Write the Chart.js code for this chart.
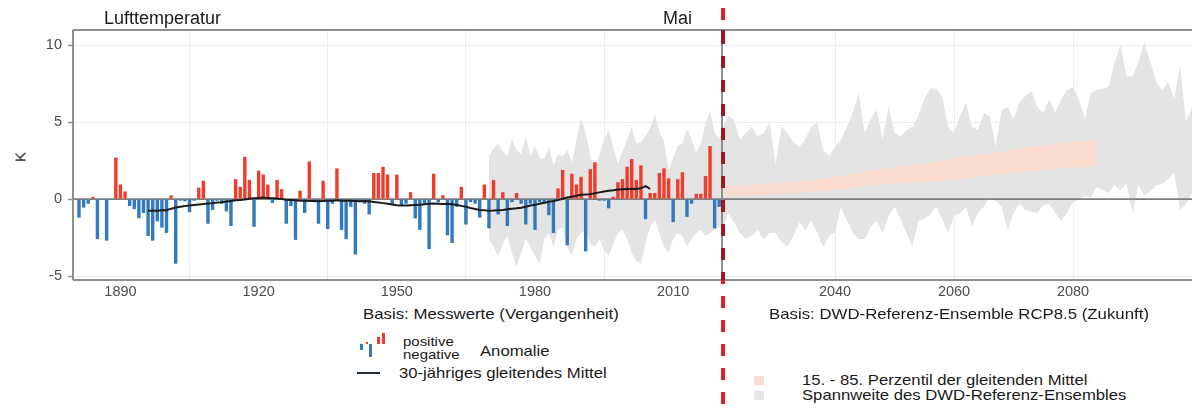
<!DOCTYPE html>
<html lang="de">
<head>
<meta charset="utf-8">
<title>Lufttemperatur – Mai</title>
<script src="https://cdn.jsdelivr.net/npm/chart.js@4.4.1/dist/chart.umd.min.js"></script>
<style>
  html, body { margin: 0; padding: 0; background: #fff; }
  #wrap { position: relative; width: 1192px; height: 408px; overflow: hidden;
          font-family: "Liberation Sans", Arial, Helvetica, sans-serif; color: #1a1a1a; }
  canvas { position: absolute; top: 0; }
  #past { left: 0; }
  #future { left: 700px; }
  .t { position: absolute; white-space: nowrap; line-height: 1; transform-origin: 0 50%; }
  .note { font-size: 15px; transform: translateY(-50%) scaleX(1.12); }
  .leg { font-size: 14.5px; transform: translateY(-50%) scaleX(1.15); }
  .small { font-size: 13px; transform: translateY(-50%) scaleX(1.15); }
  .sw { position: absolute; }
  #cut { position: absolute; left: 721px; top: -16px; width: 4px; height: 440px;
         background: repeating-linear-gradient(to bottom, #e11d2e 0 12px, transparent 12px 24px); }
  #cutIn { position: absolute; left: 721px; top: 30px; width: 4px; height: 250px;
           background: repeating-linear-gradient(to bottom, #9e1523 0 12px, transparent 12px 24px);
           background-position: 0 2px; }
</style>
</head>
<body>
<div id="wrap">
  <canvas id="past" width="740" height="300"></canvas>
  <canvas id="future" width="492" height="300"></canvas>

  <div class="t" style="left:104px; top:18px; font-size:18px; transform:translateY(-50%);">Lufttemperatur</div>
  <div class="t" style="left:663px; top:18px; font-size:18px; transform:translateY(-50%);">Mai</div>
  <div class="t" style="left:15px; top:157px; font-size:15px; transform-origin:50% 50%; transform:translateY(-50%) rotate(-90deg);">K</div>

  <div class="t note" style="left:363px; top:313px;">Basis: Messwerte (Vergangenheit)</div>
  <div class="t note" style="left:769px; top:313px;">Basis: DWD-Referenz-Ensemble RCP8.5 (Zukunft)</div>

  <!-- anomaly legend glyph -->
  <div class="sw" style="left:360px; top:344px; width:3px; height:6px; background:#3478be;"></div>
  <div class="sw" style="left:366px; top:342px; width:2px; height:2px; background:#f03c2d;"></div>
  <div class="sw" style="left:369px; top:344px; width:3px; height:13px; background:#3478be;"></div>
  <div class="sw" style="left:377px; top:337px; width:3px; height:7px; background:#f03c2d;"></div>
  <div class="sw" style="left:382px; top:333px; width:3px; height:11px; background:#f03c2d;"></div>
  <div class="t small" style="left:403px; top:341px;">positive</div>
  <div class="t small" style="left:403px; top:354px;">negative</div>
  <div class="t leg" style="left:480px; top:351px;">Anomalie</div>
  <div class="sw" style="left:357px; top:372px; width:23px; height:2px; background:#1f2b38;"></div>
  <div class="t leg" style="left:399px; top:373px;">30-jähriges gleitendes Mittel</div>

  <!-- ensemble legend -->
  <div class="sw" style="left:754px; top:376px; width:10px; height:9px; background:#fadbd0;"></div>
  <div class="t leg" style="left:802px; top:380px;">15. - 85. Perzentil der gleitenden Mittel</div>
  <div class="sw" style="left:754px; top:391px; width:10px; height:9px; background:#e5e5e5;"></div>
  <div class="t leg" style="left:802px; top:395px;">Spannweite des DWD-Referenz-Ensembles</div>

  <div id="cut"></div>
  <div id="cutIn"></div>
</div>

<script>
// May air temperature anomalies (K), one value per year from 1881
const firstYear = 1881;
const anomalies = [
  -1.2, -0.55, -0.3, 0.15, -2.6, -0.05, -2.7, -0.05, 2.7, 0.95,
  0.5, -0.45, -0.65, -1.25, -0.9, -2.4, -2.7, -1.45, -1.85, -2.2,
  0.25, -4.2, -0.1, -0.15, -0.85, -0.1, 0.75, 1.2, -1.6, -0.7,
  -0.1, -0.3, -0.8, -1.75, 1.3, 0.8, 2.75, 1.25, -1.8, 1.85,
  1.6, 0.95, -0.25, 1.25, 0.65, -1.6, -0.45, -2.65, 0.55, -0.9,
  2.45, -0.2, -1.6, 1.2, -1.95, -0.3, 2.0, -2.0, -2.6, -0.5,
  -3.6, -0.2, -0.3, -1.0, 1.7, 1.7, 2.1, 1.6, -0.35, 1.6,
  -0.45, -0.3, 0.45, -1.25, -2.0, -0.3, -3.25, 1.65, -0.2, 0.25,
  -2.35, -2.85, -0.5, 0.8, -1.65, -0.2, -0.3, -1.2, 0.95, -1.9,
  1.25, -1.0, 0.45, -1.75, -0.2, 0.4, -0.3, -1.65, -0.3, -2.0,
  -0.2, -0.3, -1.05, -2.2, 0.7, 1.9, -3.0, 1.65, 0.95, 1.45,
  -3.4, 1.95, 2.4, -0.1, -0.1, -0.6, 0.15, 1.1, 1.3, 2.1,
  2.6, 1.25, 2.2, -1.3, 0.4, 0.4, 1.7, 2.0, 1.35, -1.5,
  1.3, 1.75, -1.15, -0.3, 0.35, 0.35, 1.5, 3.45, -1.9, -0.5
];

// 30-year moving mean (K), centred, from 1896
const meanStart = 1896;
const movingMean = [
  -0.75, -0.75, -0.75, -0.73, -0.72, -0.62, -0.55, -0.5, -0.45, -0.42,
  -0.38, -0.35, -0.32, -0.28, -0.26, -0.22, -0.2, -0.16, -0.12, -0.08,
  -0.06, -0.02, 0.02, 0.06, 0.08, 0.1, 0.08, 0.06, 0.04, 0.0,
  -0.04, -0.06, -0.08, -0.1, -0.1, -0.12, -0.12, -0.14, -0.12, -0.1,
  -0.1, -0.08, -0.1, -0.1, -0.1, -0.12, -0.14, -0.12, -0.14, -0.18,
  -0.22, -0.26, -0.3, -0.35, -0.4, -0.42, -0.42, -0.4, -0.38, -0.36,
  -0.34, -0.3, -0.28, -0.3, -0.32, -0.3, -0.34, -0.38, -0.44, -0.5,
  -0.58, -0.64, -0.7, -0.73, -0.75, -0.74, -0.72, -0.7, -0.66, -0.62,
  -0.6, -0.56, -0.5, -0.42, -0.36, -0.3, -0.24, -0.18, -0.12, -0.06,
  0.02, 0.1, 0.16, 0.22, 0.28, 0.3, 0.32, 0.38, 0.44, 0.5,
  0.55, 0.58, 0.62, 0.64, 0.66, 0.67, 0.66, 0.7, 0.84, 0.66
];

// DWD reference ensemble (RCP8.5): range of the members per year, from 1970
const ensembleStart = 1970;
const ensembleUpper = [
  2.8, 3.3, 3.6, 3.1, 2.8, 3.9, 3.2, 2.9, 4.1, 2.8,
  3.4, 2.7, 2.6, 3.4, 2.2, 2.9, 2.8, 3.2, 2.4, 3.9,
  5.3, 4.3, 2.8, 1.9, 2.9, 3.9, 4.5, 3.4, 2.3, 3.1,
  3.9, 4.7, 3.6, 3.7, 4.1, 4.6, 5.5, 4.4, 3.8, 1.9,
  2.7, 3.5, 3.6, 4.6, 3.9, 3.0, 3.6, 4.9, 5.7, 4.3,
  3.9,
  4.6, 5.4, 5.2, 3.9, 4.3, 4.7, 4.1, 4.3, 5.0, 2.3,
  4.7, 4.3, 3.7, 3.4, 3.9, 4.7, 5.0, 3.2, 2.8, 3.4,
  3.9, 4.7, 5.6, 6.9, 4.3, 5.2, 5.8, 3.9, 6.0, 4.3,
  4.1, 4.5, 4.7, 5.4, 6.5, 7.2, 7.2, 6.7, 4.7, 4.3,
  5.4, 6.3, 4.7, 4.5, 5.6, 5.4, 3.4, 5.8, 6.0, 5.2,
  6.3, 6.7, 7.0, 6.0, 5.6, 6.5, 5.6, 6.5, 7.1, 7.3,
  6.5, 5.2, 6.9, 7.1, 7.2, 7.3, 8.9, 10.0, 8.0, 8.0,
  8.9, 10.2, 8.9, 7.6, 7.1, 7.6, 6.5, 8.7, 5.0, 6.0
];
const ensembleLower = [
  -2.6, -3.1, -3.7, -2.9, -2.4, -3.5, -4.4, -3.5, -2.6, -3.1,
  -3.7, -4.2, -2.6, -2.2, -3.1, -2.0, -1.8, -3.1, -3.7, -2.6,
  -2.2, -2.0, -2.9, -3.1, -2.6, -3.3, -3.7, -2.9, -2.2, -2.0,
  -2.6, -3.5, -4.0, -4.2, -2.9, -1.8, -1.35, -2.2, -3.1, -3.5,
  -2.6, -2.2, -2.4, -3.1, -2.6, -2.2, -2.0, -2.4, -2.2, -2.0,
  -1.8,
  -2.2, -0.9, -1.5, -2.2, -2.6, -2.4, -2.0, -2.6, -2.2, -2.2,
  -2.8, -3.1, -2.4, -1.5, -2.0, -1.4, -2.2, -3.1, -2.4, -2.2,
  -0.5, -1.4, -2.2, -2.6, -2.6, -1.8, -1.4, -2.2, -1.1, -0.5,
  -1.3, -2.2, -3.1, -1.4, -1.3, -1.0, -0.5, -1.3, -2.2, -1.1,
  -0.9, -0.5, -1.8, -0.9, -0.5, 0.1, -0.1, -0.5, -2.0, -0.9,
  -0.3, -0.7, -0.8, -0.9, -0.4, -0.3, -0.9, -1.4, -0.9, -0.2,
  0.0, 0.2, 0.1, 0.8, 0.6, 0.4, 0.9, 0.6, 1.0, -0.9,
  0.9, 0.2, 0.5, 0.9, 1.0, 1.3, 1.7, -0.7, -0.3, 0.4
];

// 15th and 85th percentile of the ensemble moving means
const percentileYears = [2021, 2026, 2031, 2036, 2041, 2046, 2051, 2056, 2061, 2066, 2071, 2076, 2081, 2084];
const percentileLow   = [0.15, 0.25, 0.35, 0.45, 0.65, 0.9, 1.05, 1.15, 1.3, 1.55, 1.75, 1.95, 2.05, 2.15];
const percentileHigh  = [0.85, 0.95, 1.05, 1.2, 1.5, 1.85, 2.1, 2.35, 2.7, 2.95, 3.3, 3.55, 3.75, 3.9];

// axis ticks
const pastTicks = [1890, 1920, 1950, 1980, 2010];
const futureTicks = [2040, 2060, 2080];
const kTicks = [-5, 0, 5, 10];

const series = (start, vals) => vals.map((v, i) => ({ x: start + i, y: v }));
const paired = (xs, vals) => vals.map((v, i) => ({ x: xs[i], y: v }));

const RED = '#f03c2d', BLUE = '#3478be';
const GRID = '#ececec', FRAME = '#8f8f8f';
const tickFont = { family: '"Liberation Sans", Arial, sans-serif', size: 14.5 };

function bandSets() {
  const flat = { type: 'line', pointRadius: 0, borderWidth: 0, borderColor: 'transparent', tension: 0 };
  return [
    { ...flat, label: 'ensemble max', data: series(ensembleStart, ensembleUpper), fill: false, order: 6 },
    { ...flat, label: 'ensemble min', data: series(ensembleStart, ensembleLower), fill: '-1',
      backgroundColor: '#e4e4e4', order: 5 },
    { ...flat, label: 'P85', data: paired(percentileYears, percentileHigh), fill: false, order: 4 },
    { ...flat, label: 'P15', data: paired(percentileYears, percentileLow), fill: '-1',
      backgroundColor: '#fadbd0', order: 3 }
  ];
}

// panel frame, zero reference line
const panelFrame = {
  id: 'panelFrame',
  beforeDatasetDraw(chart, args) {
    if (args.meta.type === 'bar') zeroLine(chart);
  },
  afterDatasetsDraw(chart) {
    const hasBars = chart.data.datasets.some(d => d.type === 'bar');
    if (!hasBars) zeroLine(chart);
    const { ctx, chartArea: a } = chart;
    ctx.save();
    ctx.strokeStyle = FRAME;
    ctx.lineWidth = 2;
    ctx.beginPath();
    ctx.moveTo(a.left, a.top); ctx.lineTo(a.right, a.top);
    ctx.moveTo(a.left, a.bottom); ctx.lineTo(a.right, a.bottom);
    ctx.moveTo(a.left, a.top); ctx.lineTo(a.left, a.bottom);
    ctx.stroke();
    ctx.restore();
  }
};
function zeroLine(chart) {
  const { ctx, chartArea: a } = chart;
  const y0 = chart.scales.y.getPixelForValue(0);
  ctx.save();
  ctx.strokeStyle = '#7d7d7d';
  ctx.lineWidth = 1.6;
  ctx.beginPath();
  ctx.moveTo(a.left, y0); ctx.lineTo(a.right, y0);
  ctx.stroke();
  ctx.restore();
}

function yScale(showLabels) {
  return {
    min: -5.26, max: 11.0,
    afterBuildTicks: s => { s.ticks = kTicks.map(v => ({ value: v })); },
    afterFit: s => { s.width = showLabels ? 73 : 0; },
    border: { display: false },
    grid: { color: GRID, lineWidth: 1, drawTicks: showLabels, tickLength: 5, tickColor: FRAME, tickWidth: 1.5 },
    ticks: { display: showLabels, font: tickFont, color: '#4d4d4d', padding: 6 }
  };
}
function xScale(min, max, list) {
  return {
    type: 'linear', min, max, offset: false,
    afterBuildTicks: s => { s.ticks = list.map(v => ({ value: v })); },
    afterFit: s => { s.height = 20; },
    border: { display: false },
    grid: { color: GRID, lineWidth: 1, drawTicks: false },
    ticks: { font: tickFont, color: '#4d4d4d', padding: 3, maxRotation: 0, autoSkip: false,
             callback: v => String(v) }
  };
}
const common = {
  responsive: false, animation: false, events: [],
  plugins: { legend: { display: false }, tooltip: { enabled: false } }
};

// observations 1881 – 2020
new Chart(document.getElementById('past'), {
  type: 'bar',
  data: {
    datasets: [
      ...bandSets(),
      { type: 'bar', label: 'Anomalie', data: series(firstYear, anomalies),
        backgroundColor: ctx => (ctx.raw && ctx.raw.y >= 0 ? RED : BLUE),
        barPercentage: 0.74, categoryPercentage: 1, order: 2 },
      { type: 'line', label: '30-jähriges gleitendes Mittel', data: series(meanStart, movingMean),
        borderColor: '#1b1b1b', borderWidth: 2, pointRadius: 0, fill: false, tension: 0, order: 1 }
    ]
  },
  options: {
    ...common,
    layout: { padding: { top: 30, right: 18, left: 0, bottom: 0 } },
    scales: { x: xScale(1879.7, 2020.6, pastTicks), y: yScale(true) }
  },
  plugins: [panelFrame]
});

// projections 2021 – 2100
new Chart(document.getElementById('future'), {
  type: 'line',
  data: { datasets: bandSets() },
  options: {
    ...common,
    layout: { padding: { top: 30, right: 0, left: 22, bottom: 0 } },
    scales: { x: xScale(2021, 2100, futureTicks), y: yScale(false) }
  },
  plugins: [panelFrame]
});
</script>
</body>
</html>
